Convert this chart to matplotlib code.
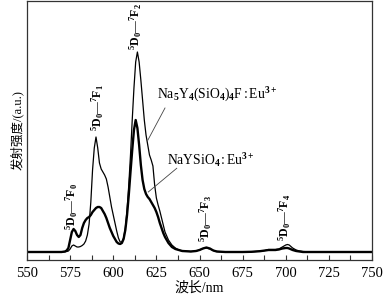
import matplotlib
matplotlib.use("Agg")
import matplotlib.pyplot as plt
from matplotlib.ticker import MultipleLocator

# ---------------- data ----------------
wavelength = [550, 555, 560, 565, 570, 572, 573, 574, 575, 576, 577, 578, 579, 580,
              581, 582, 583, 584, 585, 586, 587, 588, 589, 590, 591, 592, 593, 594,
              595, 596, 597, 598, 599, 600, 601, 602, 603, 604, 605, 606, 607, 608,
              609, 610, 611, 612, 613, 614, 615, 616, 617, 618, 619, 620, 621, 622,
              623, 624, 625, 626, 627, 628, 629, 630, 632, 634, 636, 638, 640, 645,
              648, 650, 652, 654, 656, 658, 660, 665, 670, 675, 680, 685, 688, 690,
              692, 694, 696, 698, 700, 701, 702, 704, 706, 708, 710, 715, 720, 725,
              730, 735, 740, 745, 750]

na5y4_f = [8, 8, 8, 8, 8, 8.2, 8.5, 9, 11, 14, 15, 14, 13, 13,
           13.5, 14.5, 16, 19, 25, 36, 58, 90, 112, 123, 112, 97, 91, 88,
           85, 81, 73, 63, 53, 45, 37, 29, 22, 18, 18, 22, 32, 50,
           75, 105, 140, 172, 198, 208, 198, 180, 160, 140, 125, 115, 105, 100,
           94, 75, 62, 55, 49, 42, 35, 28, 20, 15, 12, 10, 9, 8.5,
           9, 10, 11.5, 12, 11, 9.5, 8.5, 8, 8, 8, 8.2, 8.8, 9.5, 10.5,
           10.5, 10.5, 11, 13, 15, 15.5, 15, 12, 10, 9, 8.5, 8, 8, 8,
           8, 8, 8, 8, 8]

naysio4 = [8, 8, 8, 8, 8, 8.5, 9.5, 12, 20, 28, 31, 29, 25, 23,
           25, 32, 37, 40, 42, 43, 45, 48, 50, 52, 53, 53, 52, 49,
           46, 42, 37, 32, 28, 24, 21, 18, 16.5, 16, 17, 21, 30, 45,
           65, 88, 110, 130, 140, 132, 115, 95, 80, 71, 66, 63, 61, 58,
           55, 52, 48, 43, 37, 32, 27, 23, 17, 13, 11, 10, 9, 8.5,
           9, 10, 11.5, 12.5, 11.5, 9.5, 8.5, 8, 8, 8, 8.2, 8.8, 9.5, 10,
           10, 10, 10.5, 11.5, 12, 12, 11.5, 10, 9, 8.5, 8, 8, 8, 8,
           8, 8, 8, 8, 8]

x_ticks = [550, 575, 600, 625, 650, 675, 700, 725, 750]

transitions = [r"$^5\mathrm{D}_0$—$^7\mathrm{F}_0$", r"$^5\mathrm{D}_0$—$^7\mathrm{F}_1$",
               r"$^5\mathrm{D}_0$—$^7\mathrm{F}_2$", r"$^5\mathrm{D}_0$—$^7\mathrm{F}_3$",
               r"$^5\mathrm{D}_0$—$^7\mathrm{F}_4$"]
transition_pos = [(576.1, 53), (591.2, 152), (613.2, 233), (653.8, 41), (699.2, 43)]

label_a = r"Na$_5$Y$_4$(SiO$_4$)$_4$F$\,$:$\,$Eu$^{3+}$"
label_b = r"NaYSiO$_4$$\,$:$\,$Eu$^{3+}$"

# ---------------- style ----------------
plt.rcParams["font.family"] = ["Liberation Serif", "Noto Sans CJK SC"]
plt.rcParams["mathtext.fontset"] = "custom"
plt.rcParams["mathtext.rm"] = "Liberation Serif:bold"
plt.rcParams["mathtext.it"] = "Liberation Serif:italic:bold"
plt.rcParams["mathtext.bf"] = "Liberation Serif:bold"

fig = plt.figure(figsize=(3.84, 2.95), dpi=100)
ax = fig.add_axes([27 / 384, 1 - 260 / 295, 345 / 384, 259 / 295])

ax.plot(wavelength, naysio4, color="black", lw=1.7, solid_joinstyle="round")
ax.plot(wavelength, na5y4_f, color="black", lw=0.9, solid_joinstyle="round")

ax.set_xlim(550, 750)
ax.set_ylim(0, 259)
ax.set_xticks(x_ticks)
ax.xaxis.set_minor_locator(MultipleLocator(12.5))
ax.set_yticks([])
ax.tick_params(axis="x", which="both", direction="in", length=3.5, width=0.8,
               labelsize=10.5, pad=5, color="#333333")
for s in ax.spines.values():
    s.set_linewidth(0.9)
    s.set_color("#333333")

ax.set_xlabel("波长/nm", fontsize=10, labelpad=1)
ax.set_ylabel("发射强度/(a.u.)", fontsize=9, labelpad=2)

for txt, (xx, yy) in zip(transitions, transition_pos):
    ax.text(xx, yy, txt, rotation=90, ha="center", va="center", fontsize=8.5)

ax.text(625.4, 165, label_a, ha="left", va="center", fontsize=9.8)
ax.text(631.2, 100, label_b, ha="left", va="center", fontsize=9.8)
ax.plot([630.0, 620.1], [152, 120], color="#444444", lw=0.6)
ax.plot([636.8, 620.3], [91.7, 68], color="#444444", lw=0.6)

fig.savefig("out.png", dpi=100)
